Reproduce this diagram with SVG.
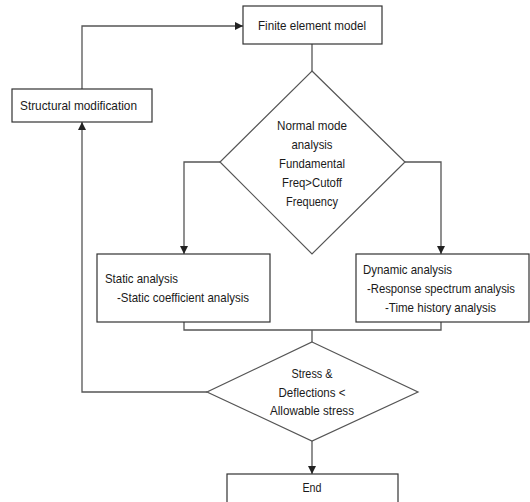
<svg xmlns="http://www.w3.org/2000/svg" width="530" height="502" viewBox="0 0 530 502">
<style>
.box{fill:#fff;stroke:#333;stroke-width:1.2}
.dia{fill:#fff;stroke:#555;stroke-width:1.2}
.ln{fill:none;stroke:#555;stroke-width:1.3}
text{font-family:"Liberation Sans","Noto Sans",sans-serif;font-size:13px;fill:#1a1a1a}
.c{text-anchor:middle}
.s{font-size:12px}
</style>
<defs>
<marker id="ah" viewBox="0 0 10 10" refX="10" refY="5" markerWidth="8" markerHeight="8" markerUnits="userSpaceOnUse" orient="auto">
<path d="M0,0 L10,5 L0,10 z" fill="#222"/>
</marker>
</defs>
<rect width="530" height="502" fill="#fff"/>
<g id="connectors">
<path class="ln" d="M312,44 V71"/>
<path class="ln" d="M220,162 H184 V254" marker-end="url(#ah)"/>
<path class="ln" d="M405,162 H441 V254" marker-end="url(#ah)"/>
<path class="ln" d="M184,322 V330 H441 V322"/>
<path class="ln" d="M312,330 V342"/>
<path class="ln" d="M312,441 V474" marker-end="url(#ah)"/>
<path class="ln" d="M207,392 H82 V122" marker-end="url(#ah)"/>
<path class="ln" d="M82,89 V26 H243" marker-end="url(#ah)"/>
</g>
<g id="fem">
<rect class="box" x="243" y="6" width="139" height="38"/>
<text class="c" x="312" y="30" textLength="108" lengthAdjust="spacingAndGlyphs">Finite element model</text>
</g>
<g id="structural">
<rect class="box" x="12" y="89" width="140" height="33"/>
<text x="20" y="110" textLength="117" lengthAdjust="spacingAndGlyphs">Structural modification</text>
</g>
<g id="normal-mode">
<polygon class="dia" points="312,71 405,162 312,254 220,162"/>
<text class="c" x="312" y="130" textLength="70" lengthAdjust="spacingAndGlyphs">Normal mode</text>
<text class="c" x="312" y="149" textLength="41" lengthAdjust="spacingAndGlyphs">analysis</text>
<text class="c" x="312" y="168" textLength="66" lengthAdjust="spacingAndGlyphs">Fundamental</text>
<text class="c" x="312" y="187" textLength="60" lengthAdjust="spacingAndGlyphs">Freq&gt;Cutoff</text>
<text class="c" x="312" y="206" textLength="52" lengthAdjust="spacingAndGlyphs">Frequency</text>
</g>
<g id="static">
<rect class="box" x="97" y="254" width="173" height="68"/>
<text x="105" y="283" textLength="73" lengthAdjust="spacingAndGlyphs">Static analysis</text>
<text x="117" y="302" textLength="132" lengthAdjust="spacingAndGlyphs">-Static coefficient analysis</text>
</g>
<g id="dynamic">
<rect class="box" x="356" y="254" width="173" height="68"/>
<text x="363" y="274" textLength="89" lengthAdjust="spacingAndGlyphs">Dynamic analysis</text>
<text class="s" x="367" y="293" textLength="148" lengthAdjust="spacingAndGlyphs">-Response spectrum analysis</text>
<text x="385" y="312" textLength="111" lengthAdjust="spacingAndGlyphs">-Time history analysis</text>
</g>
<g id="stress">
<polygon class="dia" points="312,342 418,392 312,441 207,392"/>
<text class="c" x="312" y="378" textLength="41" lengthAdjust="spacingAndGlyphs">Stress &amp;</text>
<text class="c" x="312" y="397" textLength="67" lengthAdjust="spacingAndGlyphs">Deflections &lt;</text>
<text class="c" x="312" y="415" textLength="84" lengthAdjust="spacingAndGlyphs">Allowable stress</text>
</g>
<g id="end">
<rect class="box" x="227" y="474" width="171" height="34"/>
<text class="c" x="312" y="492" textLength="19" lengthAdjust="spacingAndGlyphs">End</text>
</g>
</svg>
